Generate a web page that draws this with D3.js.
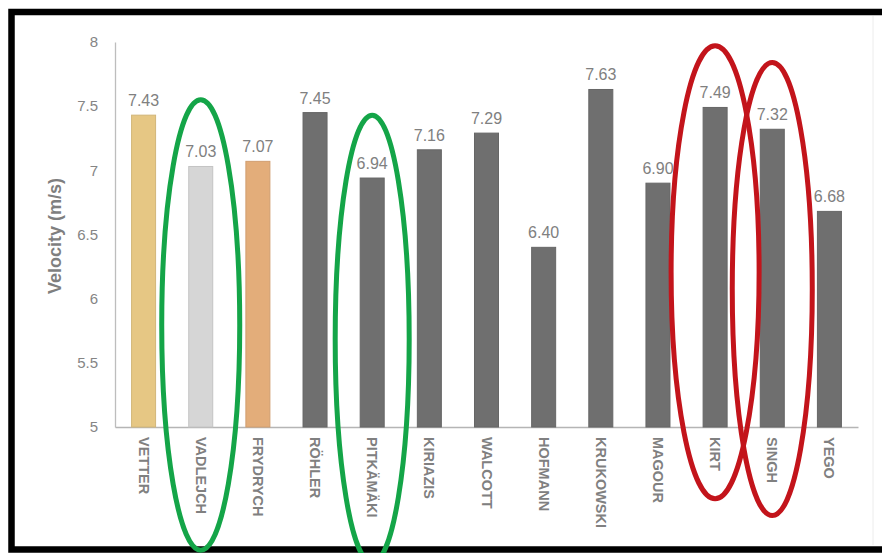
<!DOCTYPE html>
<html>
<head>
<meta charset="utf-8">
<script src="https://cdn.jsdelivr.net/npm/d3@7"></script>
<style>
  html, body { margin: 0; padding: 0; background: #fff; }
  svg { display: block; }
  text { font-family: "Liberation Sans", Arial, sans-serif; }
</style>
</head>
<body>
<svg id="chart" width="882" height="553"></svg>
<script>
// ---- data ----
const athletes = ["VETTER", "VADLEJCH", "FRYDRYCH", "RÖHLER", "PITKÄMÄKI", "KIRIAZIS", "WALCOTT", "HOFMANN", "KRUKOWSKI", "MAGOUR", "KIRT", "SINGH", "YEGO"];
const velocity = [7.43, 7.03, 7.07, 7.45, 6.94, 7.16, 7.29, 6.40, 7.63, 6.90, 7.49, 7.32, 6.68];
const barColors = ["#e6c784", "#d6d6d6", "#e3ad7a", "#6f6f6f", "#6f6f6f", "#6f6f6f", "#6f6f6f", "#6f6f6f", "#6f6f6f", "#6f6f6f", "#6f6f6f", "#6f6f6f", "#6f6f6f"];
const yTicks = [5, 5.5, 6, 6.5, 7, 7.5, 8];
const yTickLabels = ["5", "5.5", "6", "6.5", "7", "7.5", "8"];
const valueLabels = ["7.43", "7.03", "7.07", "7.45", "6.94", "7.16", "7.29", "6.40", "7.63", "6.90", "7.49", "7.32", "6.68"];
const yTitle = "Velocity (m/s)";
// highlight ellipses: athlete, top / bottom (in velocity units), colour
const hlAthlete = ["VADLEJCH", "PITKÄMÄKI", "KIRT", "SINGH"];
const hlTop = [7.55, 7.43, 7.97, 7.84];
const hlBottom = [4.04, 3.94, 4.44, 4.31];
const hlColor = ["#14a548", "#14a548", "#c3141b", "#c3141b"];

// ---- drawing ----
const svg = d3.select("#chart");
const W = 882, H = 553;

const x = d3.scaleBand().domain(athletes).range([115, 858]).paddingInner(0.58).paddingOuter(0.29);
const y = d3.scaleLinear().domain([5, 8]).range([427, 42]);

svg.append("rect").attr("x", 0).attr("y", 0).attr("width", W).attr("height", H).attr("fill", "#fff");
// faint image edge on the right
svg.append("line").attr("x1", 873).attr("x2", 873).attr("y1", 16).attr("y2", 545)
  .attr("stroke", "#ececec").attr("stroke-width", 1);

// y axis
const yAxis = d3.axisLeft(y).tickValues(yTicks).tickFormat((d, i) => yTickLabels[i]).tickSize(0).tickPadding(17);
const gy = svg.append("g").attr("transform", "translate(115,0)").call(yAxis);
gy.select(".domain").attr("stroke", "#bdbdbd").attr("stroke-width", 1.3);
gy.selectAll("text").attr("fill", "#858585").attr("font-size", 15).attr("font-family", "Liberation Sans, Arial, sans-serif");

// x axis
const xAxis = d3.axisBottom(x).tickSize(0).tickPadding(10);
const gx = svg.append("g").attr("transform", "translate(0,427)").call(xAxis);
gx.select(".domain").attr("stroke", "#b5b5b5").attr("stroke-width", 1.3);
gx.selectAll("text")
  .attr("fill", "#808080").attr("font-size", 14.5).attr("font-weight", "bold")
  .attr("font-family", "Liberation Sans, Arial, sans-serif")
  .attr("text-anchor", "start").attr("dy", null)
  .attr("transform", "translate(0,0) rotate(90)")
  .attr("x", 10).attr("y", 0).attr("dominant-baseline", "central");

// bars
svg.append("g").selectAll("rect").data(athletes).join("rect")
  .attr("x", d => x(d))
  .attr("y", (d, i) => y(velocity[i]))
  .attr("width", x.bandwidth())
  .attr("height", (d, i) => y(5) - y(velocity[i]))
  .attr("fill", (d, i) => barColors[i])
  .attr("stroke", (d, i) => d3.color(barColors[i]).darker(0.25))
  .attr("stroke-width", 1);

// value labels
svg.append("g").selectAll("text").data(athletes).join("text")
  .attr("x", d => x(d) + x.bandwidth() / 2)
  .attr("y", (d, i) => y(velocity[i]) - 9)
  .attr("text-anchor", "middle")
  .attr("font-size", 16)
  .attr("fill", "#808080")
  .text((d, i) => valueLabels[i]);

// y title
svg.append("text")
  .attr("transform", "translate(55,236) rotate(-90)")
  .attr("text-anchor", "middle").attr("dominant-baseline", "central")
  .attr("font-size", 18).attr("font-weight", "bold").attr("fill", "#7f7f7f")
  .text(yTitle);

// outer black frame (right edge is off the picture)
svg.append("rect").attr("x", 11.5).attr("y", 12).attr("width", 900).attr("height", 537.5)
  .attr("fill", "none").attr("stroke", "#000").attr("stroke-width", 6.5);

// highlight ellipses
svg.append("g").selectAll("ellipse").data(hlAthlete).join("ellipse")
  .attr("cx", d => x(d) + x.bandwidth() / 2)
  .attr("cy", (d, i) => (y(hlTop[i]) + y(hlBottom[i])) / 2)
  .attr("rx", (d, i) => [39, 37, 44, 40][i])
  .attr("ry", (d, i) => (y(hlBottom[i]) - y(hlTop[i])) / 2)
  .attr("fill", "none")
  .attr("stroke", (d, i) => hlColor[i])
  .attr("stroke-width", 5);
</script>
</body>
</html>
